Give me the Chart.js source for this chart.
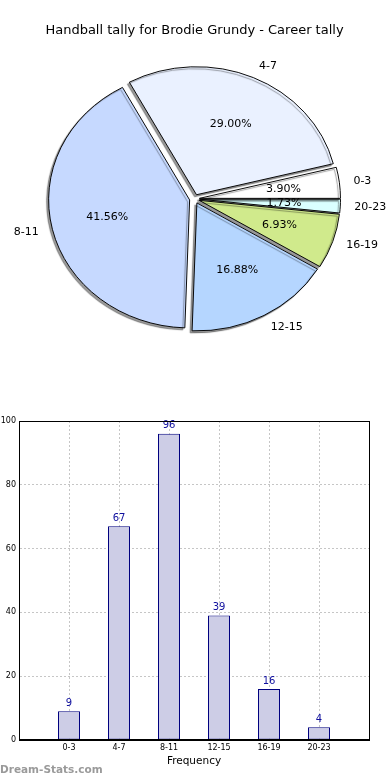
<!DOCTYPE html>
<html>
<head>
<meta charset="utf-8">
<script src="https://cdn.jsdelivr.net/npm/chart.js@4.4.1/dist/chart.umd.min.js"></script>
<style>
  body { margin: 0; background: #fff; }
  #wrap { position: relative; width: 390px; height: 780px; overflow: hidden; }
  #pie-chart { position: absolute; left: 0; top: 0; }
  #bar-chart { position: absolute; left: 0; top: 400px; }
  #watermark { position: absolute; left: 0; top: 763px; line-height: 14px; font: bold 10.5px "DejaVu Sans"; color: #9a9a9a; }
</style>
</head>
<body>
<div id="wrap">
  <canvas id="pie-chart" width="390" height="400"></canvas>
  <canvas id="bar-chart" width="390" height="380"></canvas>
  <div id="watermark">Dream-Stats.com</div>
</div>
<script>
// Chart data
const categories = ['0-3', '4-7', '8-11', '12-15', '16-19', '20-23'];
const counts = [9, 67, 96, 39, 16, 4];
const pieColors = ['#ffffff', '#eaf1ff', '#c6d9ff', '#b5d6ff', '#d0ea8c', '#daffff'];
const yTicks = [0, 20, 40, 60, 80, 100];

const font = '"DejaVu Sans"';
const total = counts.reduce((a, b) => a + b, 0);

// matplotlib goes counter-clockwise from 3 o'clock, Chart.js clockwise -> reverse
const pieOrder = categories.map((_, i) => i).reverse();

// pie is a bit squashed vertically and every slice is pulled out
const squash = 128 / 141;
const explode = 5;

const pieShape = {
  id: 'pieShape',
  beforeDatasetDraw(chart, args) {
    const ctx = chart.ctx;
    const arcs = args.meta.data;
    const cx = arcs[0].x, cy = arcs[0].y;
    ctx.save();
    ctx.translate(cx, cy);
    ctx.scale(1, squash);
    ctx.translate(-cx, -cy);
    ctx.shadowColor = 'rgba(0,0,0,0.4)';
    ctx.shadowBlur = 1;
    ctx.shadowOffsetX = -2;
    ctx.shadowOffsetY = 2;
    arcs.forEach((arc) => {
      const mid = (arc.startAngle + arc.endAngle) / 2;
      ctx.save();
      ctx.translate(Math.cos(mid) * explode, Math.sin(mid) * explode);
      arc.draw(ctx);
      ctx.restore();
    });
    ctx.restore();
    return false;
  },
  afterDatasetsDraw(chart) {
    const ctx = chart.ctx;
    const meta = chart.getDatasetMeta(0);
    ctx.save();
    ctx.font = '11px ' + font;
    ctx.fillStyle = '#000';
    ctx.textBaseline = 'middle';
    meta.data.forEach((arc, i) => {
      const k = pieOrder[i];
      const mid = (arc.startAngle + arc.endAngle) / 2;
      const cos = Math.cos(mid), sin = Math.sin(mid);
      const wx = arc.x + cos * explode;
      const wy = arc.y + sin * explode * squash;
      const r = arc.outerRadius;
      ctx.textAlign = 'center';
      ctx.fillText((counts[k] / total * 100).toFixed(2) + '%', wx + cos * r * 0.6, wy + sin * r * 0.6 * squash);
      ctx.textAlign = cos > 0 ? 'left' : 'right';
      ctx.fillText(categories[k], wx + cos * r * 1.1, wy + sin * r * 1.1 * squash);
    });
    ctx.restore();
  }
};

new Chart(document.getElementById('pie-chart'), {
  type: 'pie',
  data: {
    labels: pieOrder.map((k) => categories[k]),
    datasets: [{
      data: pieOrder.map((k) => counts[k]),
      backgroundColor: pieOrder.map((k) => pieColors[k]),
      borderColor: '#000',
      borderWidth: 1
    }]
  },
  options: {
    responsive: false,
    animation: false,
    rotation: 90,
    radius: 141,
    layout: { padding: { left: 0, right: 1, top: 0, bottom: 40.8 } },
    plugins: {
      legend: { display: false },
      tooltip: { enabled: false },
      title: {
        display: true,
        text: 'Handball tally for Brodie Grundy - Career tally',
        color: '#000',
        font: { family: font, size: 13, weight: 'normal' },
        padding: { top: 23, bottom: 0 }
      }
    }
  },
  plugins: [pieShape]
});

// Bar chart: value labels and full frame
const barLabels = {
  id: 'barLabels',
  afterDraw(chart) {
    const ctx = chart.ctx;
    const meta = chart.getDatasetMeta(0);
    ctx.save();
    ctx.font = '10px ' + font;
    ctx.fillStyle = '#0f0f9e';
    ctx.textAlign = 'center';
    ctx.textBaseline = 'middle';
    meta.data.forEach((bar, i) => {
      ctx.fillText(String(counts[i]), bar.x, bar.y - 8);
    });
    const a = chart.chartArea;
    ctx.strokeStyle = '#000';
    ctx.lineWidth = 1;
    ctx.strokeRect(Math.round(a.left) + 0.5, Math.round(a.top) + 0.5,
      Math.round(a.right - a.left), Math.round(a.bottom - a.top) - 1);
    ctx.restore();
  }
};

new Chart(document.getElementById('bar-chart'), {
  type: 'bar',
  data: {
    datasets: [{
      data: counts.map((v, i) => ({ x: i, y: v })),
      backgroundColor: '#cdcde6',
      borderColor: '#00007f',
      borderWidth: 1,
      borderSkipped: false,
      barPercentage: 0.44,
      categoryPercentage: 1
    }]
  },
  options: {
    responsive: false,
    animation: false,
    layout: { padding: { top: 21, right: 21, left: 0, bottom: 0 } },
    plugins: { legend: { display: false }, tooltip: { enabled: false } },
    scales: {
      x: {
        type: 'linear',
        offset: false,
        min: -1,
        max: categories.length,
        z: 1,
        afterFit: (s) => { s.height = 40; },
        afterBuildTicks: (s) => {
          s.ticks = [-1, ...categories.map((_, i) => i), categories.length].map((v) => ({ value: v }));
        },
        ticks: {
          autoSkip: false,
          maxRotation: 0,
          padding: 3,
          color: '#000',
          font: { family: font, size: 8 },
          callback: (v) => categories[v] ?? ''
        },
        grid: { color: '#c6c6c6', drawTicks: false, offset: false },
        border: { display: true, color: '#000', dash: [2, 2] },
        title: {
          display: true,
          text: 'Frequency',
          color: '#000',
          font: { family: font, size: 10.5 },
          padding: { top: 0, bottom: 12.7 }
        }
      },
      y: {
        min: 0,
        max: 100,
        z: 1,
        afterFit: (s) => { s.width = 19; },
        afterBuildTicks: (s) => { s.ticks = yTicks.map((v) => ({ value: v })); },
        ticks: { padding: 3, color: '#000', font: { family: font, size: 8 } },
        grid: { color: '#c6c6c6', drawTicks: false },
        border: { display: true, color: '#000', dash: [2, 2] }
      }
    }
  },
  plugins: [barLabels]
});
</script>
</body>
</html>
